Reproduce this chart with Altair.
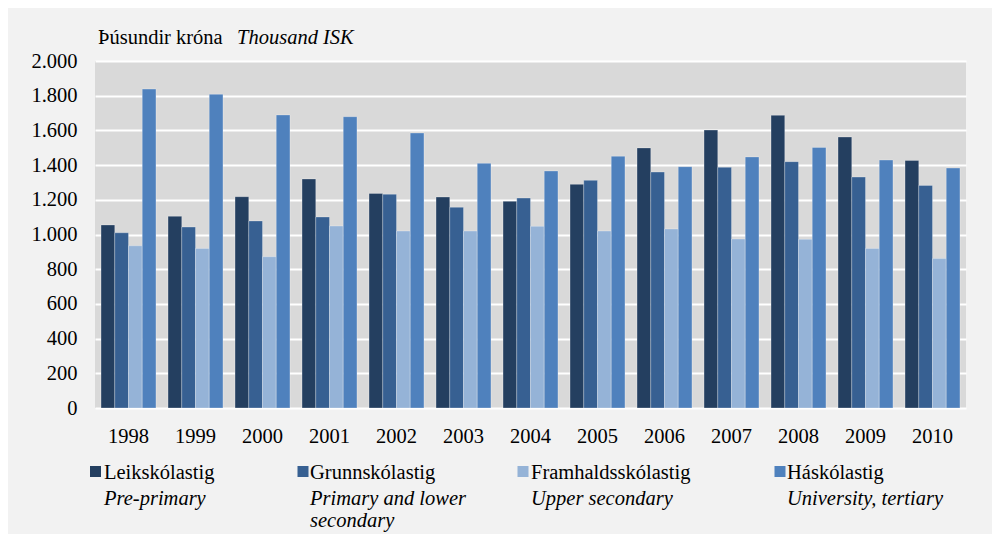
import altair as alt
import pandas as pd

years = ["1998", "1999", "2000", "2001", "2002", "2003", "2004",
         "2005", "2006", "2007", "2008", "2009", "2010"]
series_is = ["Leikskólastig", "Grunnskólastig", "Framhaldsskólastig", "Háskólastig"]
series_en = ["Pre-primary", "Primary and lower\nsecondary", "Upper secondary", "University, tertiary"]
colors = ["#243F60", "#376092", "#95B3D7", "#4F81BD"]

leik = [1055, 1105, 1218, 1320, 1237, 1216, 1191, 1289, 1499, 1602, 1687, 1562, 1427]
grunn = [1010, 1043, 1078, 1101, 1232, 1157, 1210, 1312, 1360, 1387, 1420, 1331, 1283]
framh = [935, 920, 872, 1049, 1020, 1020, 1047, 1020, 1032, 974, 972, 920, 861]
hask = [1838, 1808, 1689, 1679, 1585, 1410, 1366, 1451, 1391, 1447, 1502, 1429, 1383]

y_ticks = [0, 200, 400, 600, 800, 1000, 1200, 1400, 1600, 1800, 2000]

rows = []
for name, vals in zip(series_is, [leik, grunn, framh, hask]):
    for yr, v in zip(years, vals):
        rows.append({"year": yr, "series": name, "value": v})
df = pd.DataFrame(rows)

FONT = "Liberation Serif"
FS = 20.5
W, H = 871, 347

bars = alt.Chart(df).mark_bar(stroke="#ffffff", strokeWidth=0.8, strokeOpacity=0.35).encode(
    x=alt.X("year:N", sort=years, title=None,
            scale=alt.Scale(paddingInner=0.18, paddingOuter=0.09),
            axis=alt.Axis(labelFont=FONT, labelFontSize=FS, labelColor="#000000",
                          labelAngle=0, ticks=False, domain=False, grid=False,
                          labelBaseline="alphabetic", labelPadding=34)),
    xOffset=alt.XOffset("series:N", sort=series_is,
                        scale=alt.Scale(paddingInner=0, paddingOuter=0)),
    y=alt.Y("value:Q", title=None,
            scale=alt.Scale(domain=[0, 2000], nice=False),
            axis=alt.Axis(values=y_ticks, labelFont=FONT, labelFontSize=FS,
                          labelColor="#000000", ticks=False, domain=False,
                          grid=True, gridColor="#ffffff", gridWidth=2,
                          labelPadding=18,
                          labelExpr="replace(format(datum.value, ',d'), ',', '.')")),
    color=alt.Color("series:N", sort=series_is,
                    scale=alt.Scale(domain=series_is, range=colors), legend=None),
)

one = pd.DataFrame({"a": [0]})
layers = [bars]

# axis unit title
layers.append(alt.Chart(one).mark_text(font=FONT, fontSize=FS, align="left",
                                        baseline="alphabetic", color="#000000").encode(
    x=alt.value(3), y=alt.value(-17), text=alt.value("Þúsundir króna")))
layers.append(alt.Chart(one).mark_text(font=FONT, fontSize=FS, fontStyle="italic", align="left",
                                        baseline="alphabetic", color="#000000").encode(
    x=alt.value(142), y=alt.value(-17), text=alt.value("Thousand ISK")))

# custom legend (page coords minus plot origin 95,61)
sq_x = [95.5, 303, 523, 780]
tx_x = [104, 310, 531, 787]
for i in range(4):
    layers.append(alt.Chart(one).mark_square(size=121, opacity=1, color=colors[i]).encode(
        x=alt.value(sq_x[i] - 95), y=alt.value(471.5 - 61)))
    layers.append(alt.Chart(one).mark_text(font=FONT, fontSize=FS, align="left",
                                            baseline="alphabetic", color="#000000").encode(
        x=alt.value(tx_x[i] - 95), y=alt.value(479 - 61), text=alt.value(series_is[i])))
    layers.append(alt.Chart(one).mark_text(font=FONT, fontSize=FS, fontStyle="italic",
                                            align="left", baseline="alphabetic",
                                            lineBreak="\n", lineHeight=22,
                                            color="#000000").encode(
        x=alt.value(tx_x[i] - 95), y=alt.value(505 - 61), text=alt.value(series_en[i])))

chart = alt.layer(*layers).properties(
    width=W, height=H,
    background="#F2F2F2",
    autosize=alt.AutoSizeParams(type="none"),
    padding={"left": 87, "top": 53, "right": 26, "bottom": 126},
).configure_view(fill="#D9D9D9", stroke=None)

chart.save("out.html", embed_options={"renderer": "svg", "actions": False})
